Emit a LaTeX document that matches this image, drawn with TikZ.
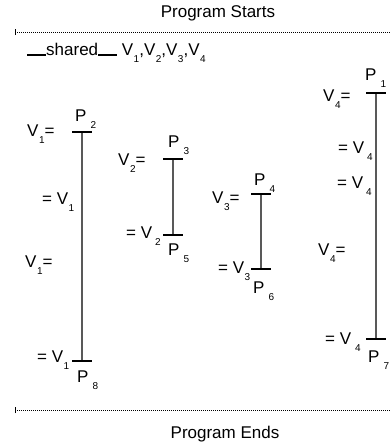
\documentclass[tikz,border=0pt]{standalone}
\usepackage{fontspec}
\setmainfont{Liberation Sans}
\usetikzlibrary{arrows.meta}
% subscripts sit below the baseline in the drawing
\newcommand{\sbs}[2][0.5pt]{\kern#1\raisebox{-7pt}{\fontsize{10}{10}\selectfont #2}}
\newcommand{\ubar}{\rule[-0.5pt]{19pt}{2pt}}
\tikzset{
  lbl/.style={anchor=base west, inner sep=0pt, font=\fontsize{17}{17}\selectfont},
  bar/.style={draw=black!65, line width=1.2pt},
  tick/.style={draw=black, line width=2.6pt},
  phase/.style={dash pattern=on 1pt off 1pt, line width=0.6pt, {Bar[width=6pt,line width=0.6pt]}-}
}
\begin{document}
\begin{tikzpicture}[x=1pt,y=-1pt]
  \useasboundingbox (0,0) rectangle (391,448);
  % program limits
  \coordinate (s0) at (15,32); \coordinate (s1) at (391,32);
  \coordinate (e0) at (15,410); \coordinate (e1) at (391,410);
  \draw[phase] (s0) -- (s1);
  \draw[phase] (e0) -- (e1);
  \node[lbl,anchor=base] (start) at (218,17) {Program Starts};
  \node[lbl,anchor=base] (end) at (225,438) {Program Ends};
  \node[lbl] (shared) at (27,55) {\ubar shared\ubar\ V\sbs{1},V\sbs{2},V\sbs{3},V\sbs{4}};
  % process lifetimes
  \coordinate (p2) at (82,132); \coordinate (p8) at (82,361);
  \coordinate (p3) at (173,159); \coordinate (p5) at (173,235);
  \coordinate (p4) at (261,194); \coordinate (p6) at (261,269);
  \coordinate (p1) at (376,93); \coordinate (p7) at (376,339);
  \draw[bar] (p2) -- (p8);
  \draw[bar] (p3) -- (p5);
  \draw[bar] (p4) -- (p6);
  \draw[bar] (p1) -- (p7);
  \foreach \c in {p1,p2,p3,p4,p5,p6,p7,p8}
    \draw[tick] ([xshift=-10pt]\c) -- ([xshift=10pt]\c);
  % process names
  \node[lbl] (n2) at (75,121) {P\sbs[4pt]{2}};
  \node[lbl] (n8) at (77,382) {P\sbs[4pt]{8}};
  \node[lbl] (n3) at (168,147) {P\sbs[4pt]{3}};
  \node[lbl] (n5) at (168,255) {P\sbs[4pt]{5}};
  \node[lbl] (n4) at (254,185) {P\sbs[4pt]{4}};
  \node[lbl] (n6) at (253,293) {P\sbs[4pt]{6}};
  \node[lbl] (n1) at (365,80) {P\sbs[4pt]{1}};
  \node[lbl] (n7) at (368,362) {P\sbs[4pt]{7}};
  % accesses
  \node[lbl] (w1a) at (27,136) {V\sbs{1}=};
  \node[lbl] (r1a) at (42,204) {= V\sbs{1}};
  \node[lbl] (w1b) at (25,267) {V\sbs{1}=};
  \node[lbl] (r1b) at (37,362) {= V\sbs{1}};
  \node[lbl] (w2) at (118,165) {V\sbs{2}=};
  \node[lbl] (r2) at (126,238) {= V\sbs[3pt]{2}};
  \node[lbl] (w3) at (212,203) {V\sbs{3}=};
  \node[lbl] (r3) at (218,273) {= V\sbs{3}};
  \node[lbl] (w4a) at (323,101) {V\sbs{4}=};
  \node[lbl] (r4a) at (338,153) {= V\sbs[3pt]{4}};
  \node[lbl] (r4b) at (337,188) {= V\sbs[3pt]{4}};
  \node[lbl] (w4b) at (318,255) {V\sbs{4}=};
  \node[lbl] (r4c) at (325,344) {= V\sbs[4pt]{4}};
\end{tikzpicture}
\end{document}
